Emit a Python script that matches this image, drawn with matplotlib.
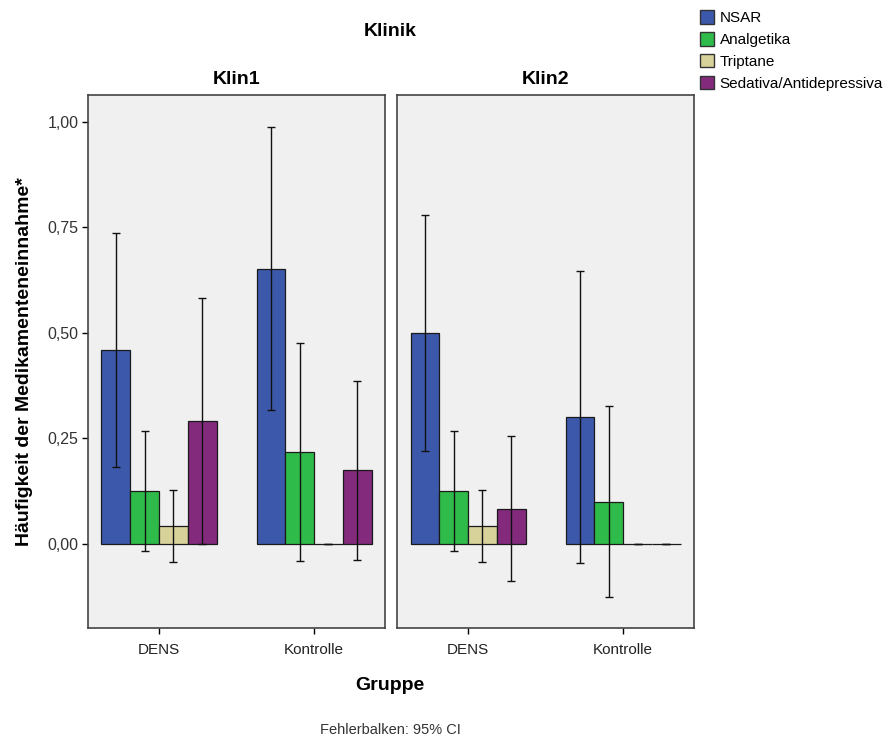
import numpy as np
import matplotlib.pyplot as plt
from matplotlib.patches import Patch

plt.rcParams['font.family'] = ['Liberation Sans', 'DejaVu Sans']

groups = ["DENS", "Kontrolle"]
series = ["NSAR", "Analgetika", "Triptane", "Sedativa/Antidepressiva"]
colors = ["#3c58ab", "#2fbb49", "#d6d29a", "#832a7c"]

# mean values [series][group]
klin1_mean = [[0.46, 0.652], [0.125, 0.218], [0.042, 0.0], [0.292, 0.175]]
klin1_lo = [[0.182, 0.318], [-0.017, -0.040], [-0.043, 0.0], [0.0, -0.038]]
klin1_hi = [[0.737, 0.988], [0.268, 0.476], [0.128, 0.0], [0.583, 0.386]]

klin2_mean = [[0.50, 0.30], [0.125, 0.10], [0.042, 0.0], [0.083, 0.0]]
klin2_lo = [[0.22, -0.045], [-0.017, -0.125], [-0.043, 0.0], [-0.088, 0.0]]
klin2_hi = [[0.78, 0.647], [0.268, 0.327], [0.128, 0.0], [0.256, 0.0]]

panels = [("Klin1", klin1_mean, klin1_lo, klin1_hi),
          ("Klin2", klin2_mean, klin2_lo, klin2_hi)]

fig = plt.figure(figsize=(8.95, 7.4), dpi=100)
bw = 0.1855
x = np.arange(len(groups))

for p, (name, mean, lo, hi) in enumerate(panels):
    ax = fig.add_axes([0.0983 + p * 0.3453, 0.1514, 0.332, 0.7203])
    ax.set_facecolor("#f0f0f0")
    for i in range(len(series)):
        xs = x + (i - 1.5) * bw
        m = np.array(mean[i])
        err = [m - np.array(lo[i]), np.array(hi[i]) - m]
        ax.bar(xs, m, width=bw, color=colors[i], edgecolor="#1a1a1a", linewidth=0.9)
        ax.errorbar(xs, m, yerr=err, fmt="none", ecolor="#111111", elinewidth=1.0,
                    capsize=3, capthick=1.0)
    ax.set_xlim(-0.458, 1.458)
    ax.set_ylim(-0.199, 1.064)
    ax.set_xticks(x)
    ax.set_xticklabels(groups, fontsize=11, color="#222222")
    ax.tick_params(axis="x", length=4, width=1, pad=7)
    if p == 0:
        ax.set_yticks([0, 0.25, 0.5, 0.75, 1.0])
        ax.set_yticklabels(["0,00", "0,25", "0,50", "0,75", "1,00"], fontsize=11.5, color="#333333")
        ax.tick_params(axis="y", length=4, width=1, pad=3)
        ax.set_ylabel("Häufigkeit der Medikamenteneinnahme*", fontsize=14, fontweight="bold", labelpad=10)
    else:
        ax.set_yticks([])
    for s in ax.spines.values():
        s.set_linewidth(1.2)
        s.set_color("#444444")
    ax.set_title(name, fontsize=14, fontweight="bold", pad=8)

fig.text(0.436, 0.957, "Klinik", ha="center", va="center", fontsize=14, fontweight="bold")
fig.text(0.436, 0.073, "Gruppe", ha="center", va="center", fontsize=14, fontweight="bold")
fig.text(0.436, 0.013, "Fehlerbalken: 95% CI", ha="center", va="center", fontsize=10.5, color="#333333")

handles = [Patch(facecolor=c, edgecolor="#333333", label=s) for c, s in zip(colors, series)]
fig.legend(handles=handles, loc="upper left", bbox_to_anchor=(0.771, 1.0), frameon=False,
           fontsize=11, handlelength=0.95, handleheight=1.0, handletextpad=0.35, labelspacing=0.45,
           borderpad=0.45, borderaxespad=0.2)

plt.savefig("out.png", dpi=100)
